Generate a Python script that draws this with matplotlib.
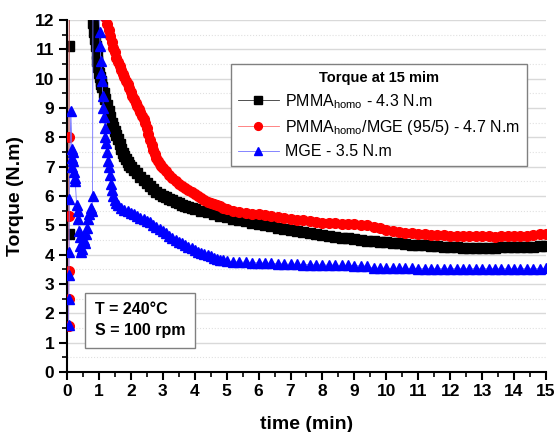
import matplotlib
matplotlib.use("Agg")
import matplotlib.pyplot as plt
from matplotlib.ticker import MultipleLocator

plt.rcParams['font.family'] = ['Liberation Sans', 'DejaVu Sans']
plt.rcParams['mathtext.fontset'] = 'custom'
plt.rcParams['mathtext.rm'] = 'Liberation Sans'

# ---- data ----
t_black = [0.05, 0.07, 0.10, 0.75,
           0.780, 0.800, 0.825, 0.850, 0.875, 0.900, 0.925, 0.950, 0.975, 1.00, 1.025, 1.05,
           1.075, 1.10, 1.15, 1.20, 1.25, 1.30, 1.35, 1.40, 1.45,
           1.50, 1.55, 1.60, 1.65, 1.70, 1.75, 1.80, 1.85, 1.90, 1.95, 2.00, 2.10, 2.20, 2.30,
           2.40, 2.50, 2.60, 2.70, 2.80, 2.90, 3.00, 3.10, 3.20, 3.30, 3.40, 3.50, 3.60, 3.70,
           3.80, 3.90, 4.00, 4.20, 4.40, 4.60, 4.80, 5.00, 5.20, 5.40,
           5.60, 5.80, 6.00, 6.20, 6.40, 6.60, 6.80, 7.00, 7.20, 7.40, 7.60, 7.80, 8.00, 8.20,
           8.40, 8.60, 8.80, 9.00, 9.20, 9.40, 9.60, 9.80, 10.0, 10.2, 10.4, 10.6, 10.8, 11.0,
           11.2, 11.4, 11.6, 11.8, 12.0, 12.2, 12.4, 12.6, 12.8, 13.0, 13.2, 13.4, 13.6, 13.8,
           14.0, 14.2, 14.4, 14.6, 14.8, 15.0]
v_black = [4.7, 11.1, 16.0, 16.0,
           12.5, 12.2, 11.9, 11.6, 11.35, 11.1, 10.85, 10.6, 10.4, 10.2, 10.05, 9.9,
           9.8, 9.7, 9.5, 9.3, 9.1, 8.9, 8.7, 8.5, 8.35,
           8.2, 8.08, 7.95, 7.78, 7.6, 7.47, 7.35, 7.25, 7.15, 7.07, 7.0, 6.88, 6.77, 6.66,
           6.55, 6.45, 6.35, 6.24, 6.15, 6.07, 6.0, 5.95, 5.9, 5.85, 5.8, 5.75, 5.7, 5.66,
           5.62, 5.58, 5.55, 5.5, 5.44, 5.38, 5.32, 5.27, 5.22, 5.18,
           5.13, 5.08, 5.04, 5.0, 4.96, 4.92, 4.88, 4.84, 4.8, 4.76, 4.72, 4.69, 4.66, 4.63,
           4.6, 4.58, 4.55, 4.53, 4.5, 4.48, 4.45, 4.43, 4.42, 4.4, 4.38, 4.36, 4.34, 4.32,
           4.31, 4.3, 4.28, 4.27, 4.26, 4.25, 4.24, 4.24, 4.24, 4.24, 4.24, 4.24, 4.25, 4.25,
           4.26, 4.26, 4.27, 4.27, 4.28, 4.28]

t_red = [0.050, 0.053, 0.056, 0.059, 0.062, 0.07, 1.10,
         1.15, 1.20, 1.25, 1.30, 1.35, 1.40, 1.45, 1.50, 1.55, 1.60, 1.65, 1.70, 1.75, 1.80,
         1.85, 1.90, 1.95, 2.00, 2.05, 2.10, 2.15, 2.20, 2.25, 2.30, 2.35, 2.40, 2.45, 2.50,
         2.55, 2.60, 2.65, 2.70, 2.75, 2.80, 2.85, 2.90, 2.95, 3.00, 3.10, 3.20, 3.30,
         3.40, 3.50, 3.60, 3.70, 3.80, 3.90, 4.00, 4.10, 4.20, 4.30, 4.40, 4.50, 4.60, 4.70,
         4.80, 4.90, 5.00, 5.20, 5.40,
         5.60, 5.80, 6.00, 6.20, 6.40, 6.60, 6.80, 7.00, 7.20, 7.40, 7.60, 7.80, 8.00, 8.20,
         8.40, 8.60, 8.80, 9.00, 9.20, 9.40, 9.60, 9.80, 10.0, 10.2, 10.4, 10.6, 10.8, 11.0,
         11.2, 11.4, 11.6, 11.8, 12.0, 12.2, 12.4, 12.6, 12.8, 13.0, 13.2, 13.4, 13.6, 13.8,
         14.0, 14.2, 14.4, 14.6, 14.8, 15.0]
v_red = [1.55, 2.5, 3.45, 5.3, 8.0, 16.0, 16.0,
         12.4, 12.1, 11.85, 11.65, 11.45, 11.25, 11.05, 10.9, 10.7, 10.55, 10.42, 10.3, 10.17, 10.05,
         9.92, 9.8, 9.68, 9.55, 9.42, 9.3, 9.17, 9.05, 8.95, 8.85, 8.74, 8.62, 8.47, 8.3,
         8.1, 7.9, 7.72, 7.55, 7.42, 7.3, 7.2, 7.1, 7.02, 6.95, 6.85, 6.7, 6.6,
         6.5, 6.42, 6.35, 6.28, 6.2, 6.12, 6.05, 5.98, 5.92, 5.86, 5.8, 5.76, 5.72, 5.68,
         5.64, 5.6, 5.56, 5.5, 5.45,
         5.42, 5.4, 5.37, 5.34, 5.3, 5.27, 5.24, 5.21, 5.19, 5.17, 5.14, 5.11, 5.09, 5.07,
         5.06, 5.05, 5.04, 5.03, 5.02, 5.0, 4.95, 4.9, 4.85, 4.8, 4.77, 4.75, 4.73, 4.71,
         4.69, 4.68, 4.67, 4.66, 4.65, 4.64, 4.64, 4.63, 4.62, 4.62, 4.62, 4.61, 4.62, 4.62,
         4.63, 4.63, 4.64, 4.68, 4.69, 4.69]

t_blue = [0.050, 0.055, 0.060, 0.065, 0.070, 0.12, 0.15, 0.16, 0.17, 0.18, 0.20, 0.22, 0.24,
          0.26, 0.30, 0.33, 0.36, 0.38, 0.40, 0.42, 0.45, 0.48, 0.52, 0.55, 0.58, 0.62, 0.66,
          0.70, 0.74, 0.78, 0.80, 0.82, 0.97,
          1.00, 1.02, 1.04, 1.06, 1.08, 1.10, 1.12, 1.14, 1.16, 1.18, 1.20, 1.22, 1.25, 1.28,
          1.31, 1.34, 1.37, 1.40, 1.45, 1.50, 1.55, 1.60, 1.70, 1.80, 1.90, 2.00, 2.10, 2.20,
          2.30, 2.40, 2.50, 2.60, 2.70, 2.80, 2.90, 3.00, 3.10, 3.20, 3.30, 3.40, 3.50, 3.60,
          3.70, 3.80, 3.90, 4.00, 4.10, 4.20, 4.30, 4.40, 4.50, 4.60, 4.70, 4.80, 4.90, 5.00,
          5.20, 5.40, 5.60, 5.80, 6.00, 6.20, 6.40, 6.60, 6.80, 7.00, 7.20, 7.40, 7.60, 7.80,
          8.00, 8.20, 8.40, 8.60, 8.80, 9.00, 9.20, 9.40, 9.60, 9.80, 10.0, 10.2, 10.4, 10.6,
          10.8, 11.0, 11.2, 11.4, 11.6, 11.8, 12.0, 12.2, 12.4, 12.6, 12.8, 13.0, 13.2, 13.4,
          13.6, 13.8, 14.0, 14.2, 14.4, 14.6, 14.8, 15.0]
v_blue = [1.6, 2.5, 3.3, 4.1, 5.9, 8.9, 7.6, 7.3, 7.0, 7.5, 7.2, 6.8, 6.6,
          6.5, 5.7, 5.5, 5.2, 4.8, 4.6, 4.3, 4.1, 4.2, 4.5, 4.4, 4.7, 4.9, 5.2,
          5.4, 5.6, 5.5, 6.0, 16.0, 16.0,
          12.2, 11.6, 11.1, 10.6, 10.2, 9.9, 9.4, 9.0, 8.7, 8.3, 8.0, 7.8, 7.5, 7.2,
          7.0, 6.7, 6.4, 6.2, 6.0, 5.85, 5.75, 5.68, 5.6, 5.53, 5.47, 5.42, 5.37, 5.32,
          5.26, 5.2, 5.15, 5.1, 5.02, 4.95, 4.87, 4.8, 4.72, 4.65, 4.57, 4.5, 4.44, 4.38,
          4.32, 4.27, 4.21, 4.15, 4.1, 4.05, 4.01, 3.98, 3.94, 3.9, 3.86, 3.82, 3.8, 3.78,
          3.76, 3.75, 3.74, 3.73, 3.72, 3.71, 3.7, 3.69, 3.68, 3.67, 3.67, 3.66, 3.66, 3.65,
          3.65, 3.64, 3.64, 3.63, 3.63, 3.62, 3.62, 3.6, 3.53, 3.53, 3.53, 3.53, 3.53, 3.53,
          3.53, 3.52, 3.52, 3.52, 3.52, 3.52, 3.52, 3.52, 3.52, 3.52, 3.52, 3.52, 3.52, 3.52,
          3.52, 3.52, 3.52, 3.52, 3.52, 3.52, 3.52, 3.53]

labels = [r"PMMA$_{\mathregular{homo}}$ - 4.3 N.m",
          r"PMMA$_{\mathregular{homo}}$/MGE (95/5) - 4.7 N.m",
          "MGE - 3.5 N.m"]

fig = plt.figure(figsize=(5.56, 4.32), dpi=100)
ax = fig.add_axes([0.1205, 0.139, 0.8615, 0.815])

ax.plot(t_black, v_black, color='#333333', lw=0.6, marker='s', ms=6.5, mec='black', mfc='black',
        label=labels[0], zorder=3)
ax.plot(t_red, v_red, color='#ff7070', lw=0.6, marker='o', ms=7, mec='red', mfc='red',
        label=labels[1], zorder=4)
ax.plot(t_blue, v_blue, color='#7070ff', lw=0.6, marker='^', ms=7.5, mec='blue', mfc='blue',
        label=labels[2], zorder=5)

ax.set_xlim(0, 15)
ax.set_ylim(0, 12)
ax.xaxis.set_major_locator(MultipleLocator(1))
ax.xaxis.set_minor_locator(MultipleLocator(0.5))
ax.yaxis.set_major_locator(MultipleLocator(1))
ax.yaxis.set_minor_locator(MultipleLocator(0.5))

ax.grid(axis='y', which='major', color='#d9d9d9', lw=1.0, ls='-', zorder=0)
ax.grid(axis='y', which='minor', color='#e0e0e0', lw=0.8, ls=':', zorder=0)
ax.set_axisbelow(True)

for s in ['top', 'right']:
    ax.spines[s].set_visible(False)
for s in ['left', 'bottom']:
    ax.spines[s].set_linewidth(1.5)

ax.tick_params(which='major', direction='out', length=6, width=1.5, labelsize=12.5, pad=3)
ax.tick_params(which='minor', direction='out', length=3.5, width=1.2)
for lab in ax.get_xticklabels() + ax.get_yticklabels():
    lab.set_fontweight('bold')

ax.set_xlabel("time (min)", fontsize=14, fontweight='bold', labelpad=12)
ax.set_ylabel("Torque (N.m)", fontsize=14, fontweight='bold', labelpad=8)

leg = ax.legend(loc='upper left', bbox_to_anchor=(0.326, 0.896), fontsize=11.5,
                title="Torque at 15 mim", title_fontproperties={'weight': 'bold', 'size': 10.5},
                frameon=True, fancybox=False, edgecolor='#808080', framealpha=1,
                handlelength=2.6, handletextpad=0.4, labelspacing=0.45, borderpad=0.4,
                markerscale=0.8)
leg.get_frame().set_linewidth(1.0)

ax.text(0.058, 0.147, "T = 240°C\nS = 100 rpm", transform=ax.transAxes, fontsize=11.5,
        fontweight='bold', va='center', ha='left', linespacing=1.5,
        bbox=dict(boxstyle='square,pad=0.6', facecolor='white', edgecolor='#808080', lw=1.0))

fig.savefig("out.png", dpi=100)
